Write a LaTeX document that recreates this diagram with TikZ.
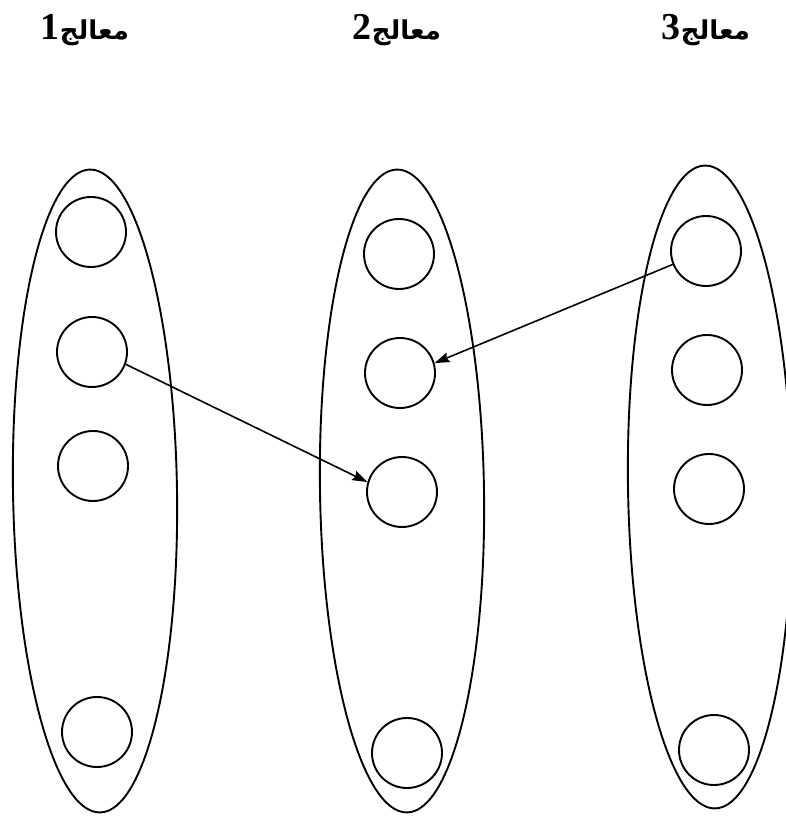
\documentclass[tikz,border=0pt]{standalone}
\usepackage{fontspec}
\usetikzlibrary{shapes.geometric,arrows.meta}
\TeXXeTstate=1
\newfontfamily\arabicfont[Script=Arabic]{DejaVu Sans}
\newfontfamily\digitfont{Liberation Serif}
\newcommand{\proclabel}[1]{\beginR{\arabicfont\fontsize{26}{28}\selectfont\bfseries معالج}{\digitfont\fontsize{38}{40}\selectfont\bfseries #1}\endR}
\begin{document}
\begin{tikzpicture}[x=1pt,y=1pt,
  proc/.style={draw, ellipse, line width=1.9pt, inner sep=0pt, minimum width=164pt, minimum height=643pt},
  unit/.style={draw, circle, line width=1.9pt, inner sep=0pt, minimum size=70pt},
  lbl/.style={inner sep=0pt, anchor=base},
  link/.style={line width=1.6pt, -{Stealth[length=15pt,width=10pt,inset=2pt]}}]
\useasboundingbox (0,0) rectangle (785,817);
% processors
\node[proc, rotate=0.9] (p1) at (95,326) {};
\node[proc, rotate=0.9] (p2) at (402,326) {};
\node[proc, rotate=0.9] (p3) at (710,330) {};
% units
\node[unit] (c11) at (91,585) {};
\node[unit] (c12) at (92,465) {};
\node[unit] (c13) at (93,351) {};
\node[unit] (c14) at (97,85) {};
\node[unit] (c21) at (399,563) {};
\node[unit] (c22) at (400,444) {};
\node[unit] (c23) at (402,325) {};
\node[unit] (c24) at (407,64) {};
\node[unit] (c31) at (706,566) {};
\node[unit] (c32) at (707,447) {};
\node[unit] (c33) at (709,328) {};
\node[unit] (c34) at (714,67) {};
% labels
\node[lbl] (l1) at (85,777) {\proclabel{1}};
\node[lbl] (l2) at (397,777) {\proclabel{2}};
\node[lbl] (l3) at (706,777) {\proclabel{3}};
% connectors
\draw[link] (c12.-20) -- (c23.164);
\draw[link] (c31.202) -- (c22.16);
\end{tikzpicture}
\end{document}
